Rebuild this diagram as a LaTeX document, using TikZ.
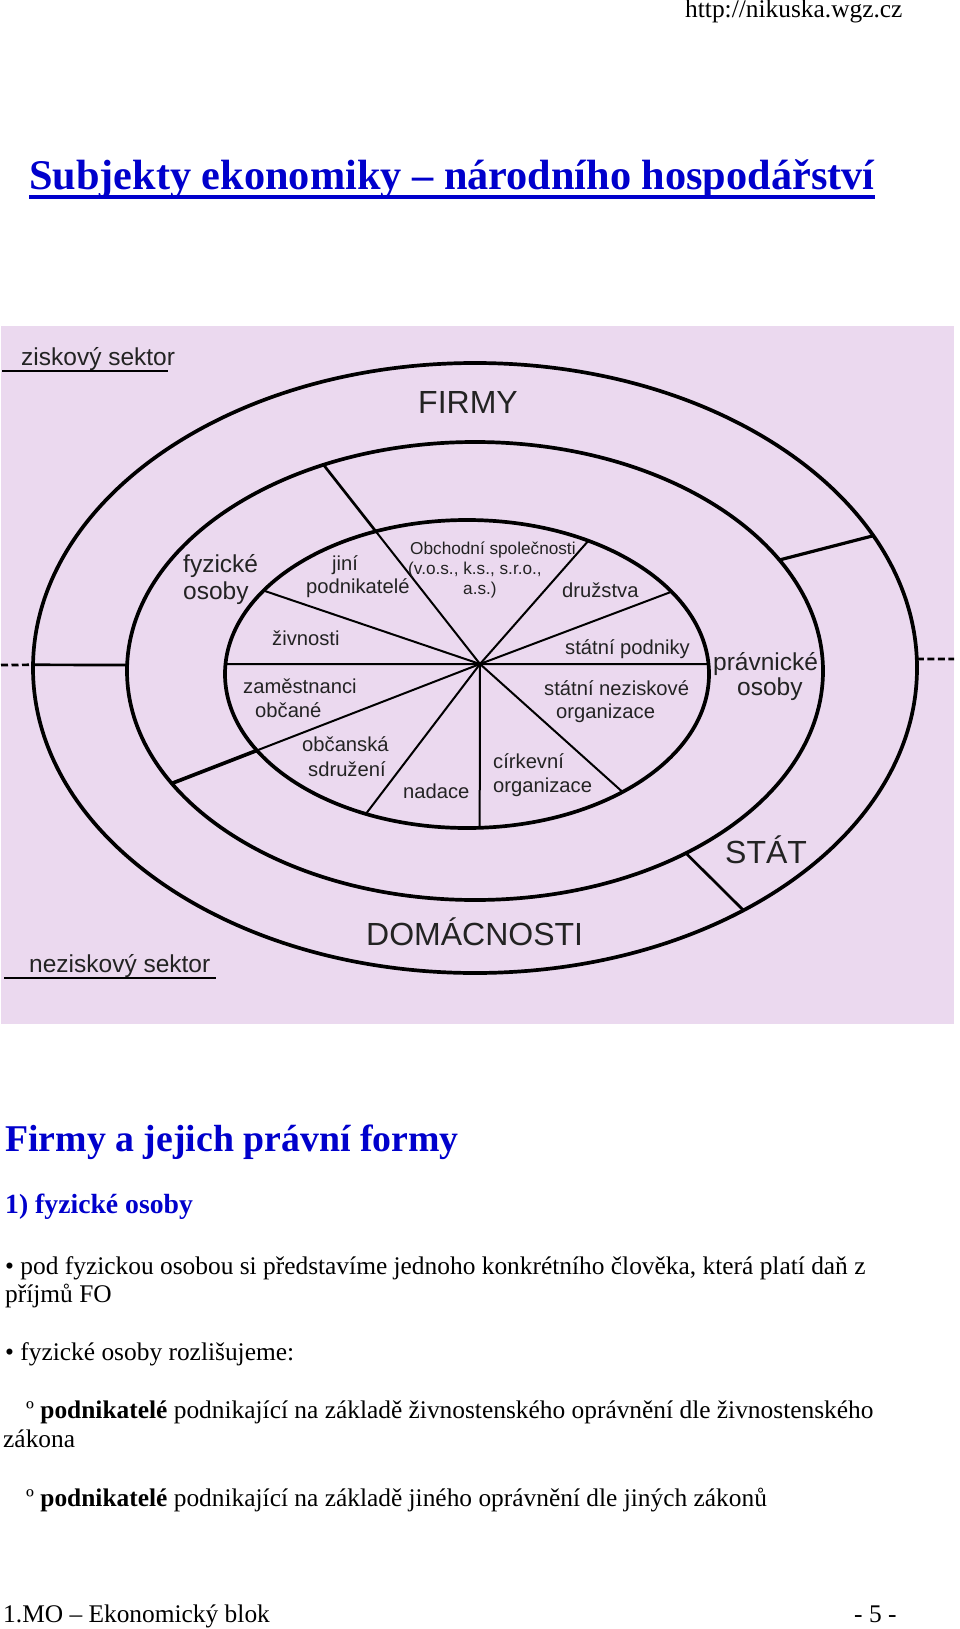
\documentclass[tikz,border=0pt]{standalone}
\usepackage{fontspec}
\setmainfont{Liberation Serif}
\newfontfamily\dsans{Liberation Sans}
\usetikzlibrary{calc}
\definecolor{lav}{HTML}{EBD9EF}
\definecolor{ink}{HTML}{232323}
\definecolor{ttlblue}{HTML}{0000CC}
\begin{document}
\begin{tikzpicture}[x=1pt,y=-1pt,
  ring/.style={line width=3.7pt},
  spoke/.style={line width=2pt},
  bar/.style={line width=2.7pt},
  dashbar/.style={line width=2.7pt, dash pattern=on 7pt off 3.5pt},
  ulin/.style={line width=2.7pt},
  dl/.style={inner sep=0pt, anchor=base west, text=ink},
  biglab/.style={dl, font=\dsans\fontsize{32}{36}\selectfont},
  midlab/.style={dl, font=\dsans\fontsize{24.5}{28}\selectfont},
  inlab/.style={dl, font=\dsans\fontsize{20.2}{23}\selectfont},
  smlab/.style={dl, font=\dsans\fontsize{17.2}{20}\selectfont},
  pg/.style={inner sep=0pt, anchor=base west, font=\fontsize{25.4}{29}\selectfont},
  blu/.style={text=ttlblue}
]
\useasboundingbox (0,0) rectangle (960,1629);
\fill[white] (0,0) rectangle (960,1629);

% ---------- page header and title ----------
\node[pg] (hdr) at (685,18) {http://nikuska.wgz.cz};
\node[pg, blu, font=\bfseries\fontsize{42.3}{48}\selectfont] (ttl) at (29,190)
  {Subjekty ekonomiky – národního hospodářství};
\draw[ttlblue, line width=3.6pt] ($(ttl.base west)+(0,7)$) -- ($(ttl.base east)+(0,7)$);

% ---------- diagram ----------
\fill[lav] (1,326) rectangle (954,1024);

\draw[ring] (475,668) ellipse [x radius=442, y radius=305];
\draw[ring] (475,671) ellipse [x radius=348, y radius=229];
\draw[ring] (467,674) ellipse [x radius=242, y radius=154];

\coordinate (c) at (480,664);
\foreach \t/\n in {-59.9/2, -32.3/3, -3.7/4, 50/5, 87/6, 114.7/7, 183.7/9, 212.8/10}
  \coordinate (i\n) at ({467+242*cos(\t)},{674+154*sin(\t)});
\coordinate (m1) at ({475+348*cos(244.2)},{671+229*sin(244.2)});
\coordinate (m8) at ({475+348*cos(150.6)},{671+229*sin(150.6)});
\coordinate (i1) at ($(c)!0.666!(m1)$);
\coordinate (i8) at ($(c)!0.724!(m8)$);

\foreach \n in {1,2,3,4,5,6,7,8,9,10}
  \draw[spoke] (c) -- (i\n);
\draw[bar] (i1) -- (m1);
\draw[bar, line width=3.7pt] (i8) -- (m8);

% connectors between middle and outer ring
\coordinate (mL) at ({475+348*cos(181.5)},{671+229*sin(181.5)});
\coordinate (oL) at ({475+442*cos(180.6)},{668+305*sin(180.6)});
\coordinate (eL) at (1,665);
\coordinate (mUR) at ({475+348*cos(-29)},{671+229*sin(-29)});
\coordinate (oUR) at ({475+442*cos(-25.7)},{668+305*sin(-25.7)});
\coordinate (mLR) at ({475+348*cos(52.7)},{671+229*sin(52.7)});
\coordinate (oLR) at ({475+442*cos(52.6)},{668+305*sin(52.6)});
\coordinate (oR) at ({475+442*cos(-1.7)},{668+305*sin(-1.7)});
\coordinate (eR) at (954,659);

\draw[bar] (mL) -- (oL);
\draw[dashbar] (eL) -- (oL);
\draw[bar, line width=3.2pt] (mUR) -- (oUR);
\draw[bar] (mLR) -- (oLR);
\draw[dashbar] (oR) -- (eR);

% sector labels
\node[midlab] (zisk) at (21,365) {ziskový sektor};
\coordinate (zu1) at (2,371); \coordinate (zu2) at (168,371);
\draw[ulin] (zu1) -- (zu2);
\node[midlab] (nezisk) at (29,972) {neziskový sektor};
\coordinate (nu1) at (4,978); \coordinate (nu2) at (216,978);
\draw[ulin] (nu1) -- (nu2);

% ring labels
\node[biglab] (firmy) at (418,413) {FIRMY};
\node[biglab] (domac) at (366,945) {DOMÁCNOSTI};
\node[biglab] (stat) at (725,863) {STÁT};
\node[midlab] (fyz1) at (183,572) {fyzické};
\node[midlab] (fyz2) at (183,599) {osoby};
\node[midlab] (prav1) at (713,670) {právnické};
\node[midlab] (prav2) at (737,695) {osoby};

% inner labels
\node[inlab] (jini1) at (332,570) {jiní};
\node[inlab] (jini2) at (306,593) {podnikatelé};
\node[smlab] (obch1) at (410,554) {Obchodní společnosti};
\node[smlab] (obch2) at (408,574) {(v.o.s., k.s., s.r.o.,};
\node[smlab] (obch3) at (463,594) {a.s.)};
\node[inlab] (druz) at (562,597) {družstva};
\node[inlab] (zivn) at (272,645) {živnosti};
\node[inlab] (stpod) at (565,654) {státní podniky};
\node[inlab] (zam1) at (243,693) {zaměstnanci};
\node[inlab] (zam2) at (255,717) {občané};
\node[inlab] (stnez1) at (544,695) {státní neziskové};
\node[inlab] (stnez2) at (556,718) {organizace};
\node[inlab] (obc1) at (302,751) {občanská};
\node[inlab] (obc2) at (308,776) {sdružení};
\node[inlab] (nad) at (403,798) {nadace};
\node[inlab] (cirk1) at (493,768) {církevní};
\node[inlab] (cirk2) at (493,792) {organizace};

% ---------- page text ----------
\node[pg, blu, font=\bfseries\fontsize{37.8}{44}\selectfont] (h2) at (5,1151) {Firmy a jejich právní formy};
\node[pg, blu, font=\bfseries\fontsize{27.7}{32}\selectfont] (h3) at (5,1213) {1) fyzické osoby};
\node[pg] (b1a) at (5,1274) {• pod fyzickou osobou si představíme jednoho konkrétního člověka, která platí daň z};
\node[pg] (b1b) at (5,1302) {příjmů FO};
\node[pg] (b2) at (5,1360) {• fyzické osoby rozlišujeme:};
\node[pg] (p1a) at (26,1418) {º \textbf{podnikatelé} podnikající na základě živnostenského oprávnění dle živnostenského};
\node[pg] (p1b) at (3,1447) {zákona};
\node[pg] (p2) at (26,1506) {º \textbf{podnikatelé} podnikající na základě jiného oprávnění dle jiných zákonů};
\node[pg] (ftl) at (3,1622) {1.MO – Ekonomický blok};
\node[pg] (ftr) at (854,1622) {- 5 -};
\end{tikzpicture}
\end{document}
